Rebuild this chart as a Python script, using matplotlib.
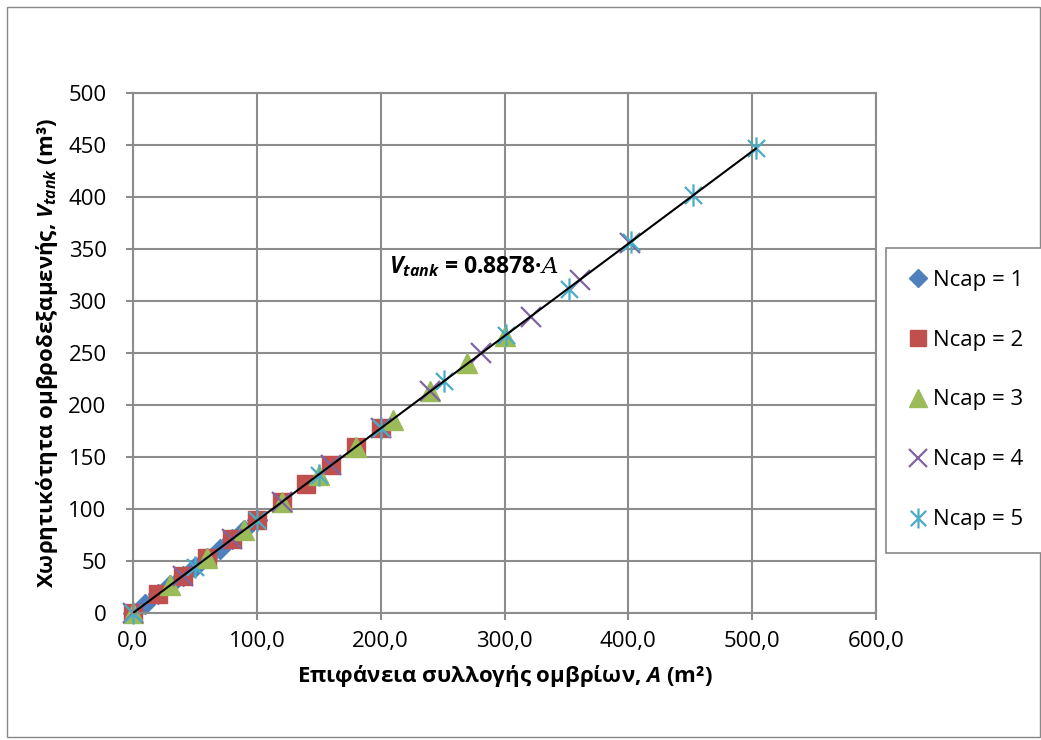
import matplotlib
matplotlib.use('Agg')
import matplotlib.pyplot as plt
from matplotlib.path import Path
from matplotlib.patches import Rectangle
import numpy as np

plt.rcParams['font.family'] = ['Open Sans', 'DejaVu Sans']
plt.rcParams['mathtext.fontset'] = 'custom'
plt.rcParams['mathtext.rm'] = 'Open Sans'
plt.rcParams['mathtext.it'] = 'DejaVu Serif:italic'
plt.rcParams['mathtext.bf'] = 'Open Sans:bold'
plt.rcParams['mathtext.bfit'] = 'Open Sans:italic:bold'

# data
a1 = [0, 10, 20, 30, 40, 50, 60, 70, 80, 90, 100]
v1 = [0, 9, 18, 27, 36, 44, 53, 62, 71, 80, 89]
a2 = [0, 20, 40, 60, 80, 100, 120, 140, 160, 180, 200]
v2 = [0, 18, 36, 53, 71, 89, 107, 124, 142, 160, 178]
a3 = [0, 30, 60, 90, 120, 150, 180, 210, 240, 270, 300]
v3 = [0, 27, 53, 80, 107, 133, 160, 186, 213, 240, 266]
a4 = [0, 40, 80, 120, 160, 200, 240, 281, 321, 361, 401]
v4 = [0, 36, 71, 107, 142, 178, 213, 250, 285, 320, 356]
a5 = [0, 50, 100, 150, 200, 251, 301, 352, 402, 452, 503]
v5 = [0, 44, 89, 133, 178, 223, 267, 312, 357, 402, 447]
slope = 0.8878
fit_x = [0, 503]

labels = ['Ncap = 1', 'Ncap = 2', 'Ncap = 3', 'Ncap = 4', 'Ncap = 5']

# excel style asterisk: x plus a vertical bar
star = Path([(-1, -1), (1, 1), (-1, 1), (1, -1), (0, -1.3), (0, 1.3)],
            [Path.MOVETO, Path.LINETO, Path.MOVETO, Path.LINETO, Path.MOVETO, Path.LINETO])

fig = plt.figure(figsize=(10.41, 7.40), dpi=100)
fig.patches.append(Rectangle((7 / 1041, 3 / 740), 1 - 8 / 1041, 1 - 10 / 740,
                             transform=fig.transFigure, fill=False,
                             edgecolor='#888888', linewidth=1))
ax = fig.add_axes([133 / 1041, 127 / 740, 743 / 1041, 520 / 740])

h1, = ax.plot(a1, v1, linestyle='none', marker='D', markersize=10,
              color='#4F81BD', label=labels[0], clip_on=False)
h2, = ax.plot(a2, v2, linestyle='none', marker='s', markersize=13,
              color='#C0504D', label=labels[1], clip_on=False)
h3, = ax.plot(a3, v3, linestyle='none', marker='^', markersize=14,
              color='#9BBB59', label=labels[2], clip_on=False)
h4, = ax.plot(a4, v4, linestyle='none', marker='x', markersize=14,
              markeredgewidth=1.6, color='#8064A2', label=labels[3], clip_on=False)
h5, = ax.plot(a5, v5, linestyle='none', marker=star, markersize=16,
              markeredgewidth=1.6, color='#4BACC6', label=labels[4], clip_on=False)

fx = np.array(fit_x)
ax.plot(fx, slope * fx, color='black', linewidth=1.5, zorder=5)

ax.text(207, 327, r'$\mathbfit{V}_{\mathbfit{tank}}$' + ' = 0.8878·' + r'$\mathit{A}$',
        fontsize=16.5, fontweight='bold', ha='left', va='baseline')

ax.set_xlim(0, 600)
ax.set_ylim(0, 500)
ax.set_xticks(np.arange(0, 601, 100))
ax.set_xticklabels([f'{v:.1f}'.replace('.', ',') for v in np.arange(0, 601, 100)])
ax.set_yticks(np.arange(0, 501, 50))
ax.grid(True, color='#8c8c8c', linewidth=1.5)
ax.set_axisbelow(True)
for s in ax.spines.values():
    s.set_color('#8c8c8c')
    s.set_linewidth(1.5)
ax.tick_params(axis='both', labelsize=16, color='#8c8c8c', length=5, width=1.5)
ax.tick_params(axis='x', pad=8)
ax.tick_params(axis='y', pad=14)

ax.set_xlabel(r'Επιφάνεια συλλογής ομβρίων, $\mathbfit{A}$ (m²)',
              fontsize=16, fontweight='bold', labelpad=8)
ax.set_ylabel(r'Χωρητικότητα ομβροδεξαμενής, $\mathbfit{V}_{\mathbfit{tank}}$ (m³)',
              fontsize=16, fontweight='bold', labelpad=6)

leg = fig.legend(handles=[h1, h2, h3, h4, h5], loc='center left',
                 bbox_to_anchor=(886 / 1041, 340 / 740), fontsize=16,
                 labelspacing=1.75, handlelength=0.9, handletextpad=0.2,
                 borderpad=1.0, borderaxespad=0, fancybox=False, framealpha=1,
                 edgecolor='#888888', markerscale=0.9)
leg.get_frame().set_linewidth(1.2)

fig.savefig('out.png', dpi=100)
